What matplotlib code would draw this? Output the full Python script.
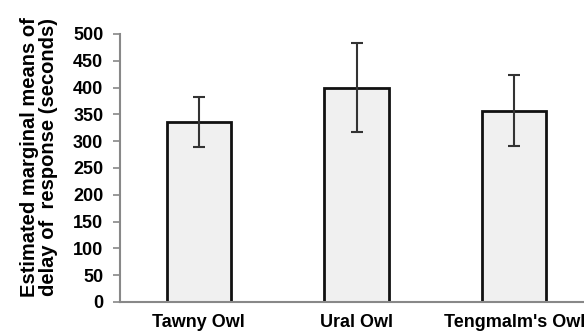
import matplotlib.pyplot as plt
import numpy as np

plt.rcParams['font.family'] = ['Liberation Sans', 'DejaVu Sans']
plt.rcParams['font.weight'] = 'bold'

species = ["Tawny Owl", "Ural Owl", "Tengmalm's Owl"]
means = [336, 400, 357]
errors = [47, 83, 66]
yticks = [0, 50, 100, 150, 200, 250, 300, 350, 400, 450, 500]

fig = plt.figure(figsize=(5.84, 3.31), dpi=100)
ax = fig.add_axes([120 / 584, 29 / 331, 473 / 584, 268 / 331])

x = np.arange(len(species))
ax.bar(x, means, width=0.41, color='#f0f0f0', edgecolor='#111111', linewidth=2, zorder=2)
ax.errorbar(x, means, yerr=errors, fmt='none', ecolor='#333333',
            elinewidth=1.5, capsize=4, capthick=1.5, zorder=3)

ax.set_xlim(-0.5, 2.5)
ax.set_ylim(0, 500)
ax.set_yticks(yticks)
ax.set_xticks(x)
ax.set_xticklabels(species, fontsize=13, fontweight='bold')
ax.tick_params(axis='x', length=0, pad=8.5)
ax.tick_params(axis='y', length=5, width=1.2, color='#888888', pad=7, labelsize=13)

for side in ['top', 'right']:
    ax.spines[side].set_visible(False)
for side in ['left', 'bottom']:
    ax.spines[side].set_color('#888888')
    ax.spines[side].set_linewidth(1.5)

fig.text(39 / 584, 1 - 157 / 331,
         "Estimated marginal means of\ndelay of  response (seconds)",
         rotation=90, ha='center', va='center', multialignment='center',
         fontsize=14.5, fontweight='bold', linespacing=0.95)

fig.savefig("out.png", dpi=100)
